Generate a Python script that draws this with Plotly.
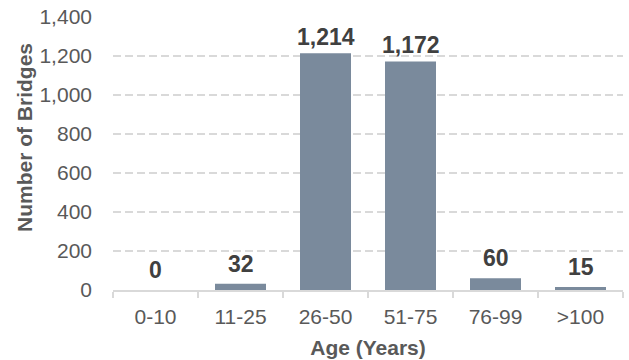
import plotly.graph_objects as go

categories = ["0-10", "11-25", "26-50", "51-75", "76-99", ">100"]
bridges = [0, 32, 1214, 1172, 60, 15]
y_ticks = [0, 200, 400, 600, 800, 1000, 1200, 1400]

bar_color = "#7a8a9c"
grid_color = "#d9d9d9"
tick_color = "#595959"
label_color = "#404040"
font_family = "Liberation Sans, Arial, sans-serif"

W, H = 629, 360
ML, MR, MT, MB = 113, 6, 17, 70
plot_w = W - ML - MR
plot_h = H - MT - MB

fig = go.Figure()
fig.add_trace(go.Bar(
    x=categories, y=bridges,
    marker=dict(color=bar_color, line=dict(width=0)),
    width=0.6,
    hoverinfo="skip",
))

for c, v in zip(categories, bridges):
    fig.add_annotation(
        x=c, y=v, xref="x", yref="y",
        text=f"<b>{v:,}</b>", showarrow=False,
        yanchor="bottom", yshift=(1 if v > 1000 else 5),
        font=dict(family=font_family, size=23, color=label_color),
    )

fig.add_annotation(
    x=(24 - ML) / plot_w, y=(H - MB - 138) / plot_h,
    xref="paper", yref="paper", xanchor="center", yanchor="middle",
    text="<b>Number of Bridges</b>", showarrow=False, textangle=-90,
    font=dict(family=font_family, size=21, color=tick_color),
)

fig.update_layout(
    width=W, height=H,
    margin=dict(l=ML, r=MR, t=MT, b=MB, autoexpand=False),
    paper_bgcolor="white", plot_bgcolor="white",
    showlegend=False,
    font=dict(family=font_family, size=21, color=tick_color),
    xaxis=dict(
        type="category",
        showline=True, linecolor=grid_color, linewidth=1.5,
        ticks="outside", tickson="boundaries", ticklen=6, tickcolor=grid_color, tickwidth=1.5,
        showgrid=False, zeroline=False,
        ticklabelstandoff=7,
        tickfont=dict(size=21, color=tick_color),
        title=dict(text="<b>Age (Years)</b>", font=dict(size=21, color=tick_color), standoff=13),
    ),
    yaxis=dict(
        range=[0, 1400], tickvals=y_ticks, tickformat=",d",
        showgrid=True, gridcolor=grid_color, gridwidth=1.5, griddash="8px,4px",
        zeroline=False, showline=False, ticks="",
        ticklabelstandoff=20,
        tickfont=dict(size=21, color=tick_color),
    ),
)

fig.write_html(
    "out.html",
    config={"displayModeBar": False, "staticPlot": True},
    post_script="document.body.style.margin='0px';document.body.style.overflow='hidden';",
)
